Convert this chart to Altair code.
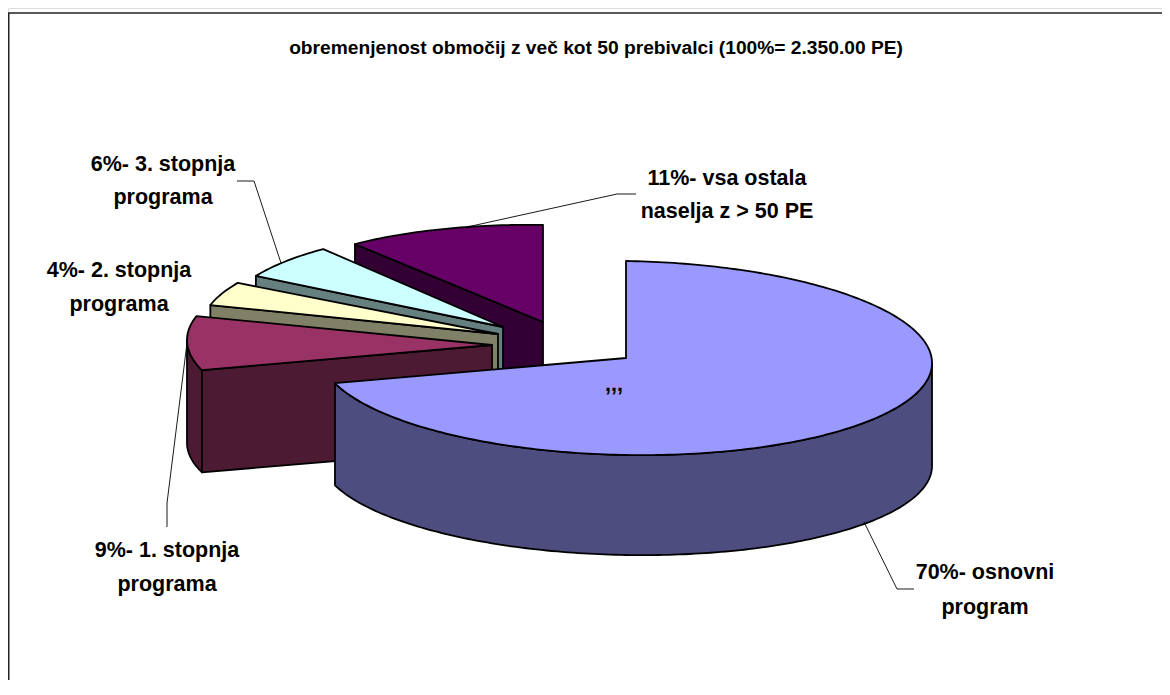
import math
import altair as alt

# ---- chart values ----
shares = [70, 9, 4, 6, 11]
top_colors = ["#9999FF", "#993366", "#FFFFCC", "#CCFFFF", "#660066"]
side_colors = ["#4D4D80", "#4D1A33", "#808066", "#668080", "#330033"]
title_text = "obremenjenost območij z več kot 50 prebivalci (100%= 2.350.00 PE)"
label_lines = [
    ["70%- osnovni", "program"],
    ["9%- 1. stopnja", "programa"],
    ["4%- 2. stopnja", "programa"],
    ["6%- 3. stopnja", "programa"],
    ["11%- vsa ostala", "naselja z > 50 PE"],
]

# ---- layout (page pixels; the page margin is subtracted below) ----
M = 8
apex = [(626, 358), (492, 345), (498, 334), (503, 327), (543, 322)]
rx = [306, 305, 297, 282, 295]
RY, DEPTH, SKEW = 97, 103, 5
label_pos = [
    (985, 579, 614), (167, 557, 591), (119, 277, 311), (163, 171, 204), (727, 185, 218),
]
leaders = [
    [(864, 522), (897, 589), (914, 589)],
    [(188, 335), (167, 503), (167, 527)],
    [(237, 181), (254, 181), (281, 263)],
    [(636, 194), (617, 194), (467, 227)],
]
borders = [[(8.75, 13), (8.75, 687)], [(8, 13), (1162, 13)]]


def pt(i, deg, drop=0):
    a = math.radians(deg)
    cx, cy = apex[i]
    if drop:
        drop -= 3 * max(0.0, -math.cos(a))  # the front wall looks a little shorter
    return (cx + rx[i] * math.sin(a) - M, cy - RY * math.cos(a) + SKEW * math.sin(a) + drop - M)


def arc(i, a0, a1, drop=0):
    n = max(2, int(abs(a1 - a0)) + 1)
    return [pt(i, a0 + (a1 - a0) * k / (n - 1), drop) for k in range(n)]


def poly(coords, fill):
    ring = [list(c) for c in coords] + [list(coords[0])]
    return {"type": "Feature", "properties": {"fill": fill},
            "geometry": {"type": "Polygon", "coordinates": [ring]}}


def line(coords):
    return {"type": "Feature", "properties": {},
            "geometry": {"type": "LineString", "coordinates": [[x - M, y - M] for x, y in coords]}}


# slices run clockwise from twelve o'clock
starts, total = [], 0
for s in shares:
    starts.append(total * 3.6)
    total += s

features = []
for i in reversed(range(len(shares))):  # back slices first, main slice last
    a0, a1 = starts[i], starts[i] + shares[i] * 3.6
    c = (apex[i][0] - M, apex[i][1] - M)
    lo, hi = max(a0, 90), min(a1, 270)
    if lo < hi:
        features.append(poly(arc(i, lo, hi) + arc(i, hi, lo, DEPTH), side_colors[i]))
    if a0 > 90:  # the cut face at the slice's start turns toward the viewer
        features.append(poly([c, pt(i, a0), pt(i, a0, DEPTH), (c[0], c[1] + DEPTH)], side_colors[i]))
    features.append(poly([c] + arc(i, a0, a1), top_colors[i]))

projection = alt.Projection(type="identity", scale=1, translate=[0, 0])


def geo(feats):
    return alt.InlineData(values={"type": "FeatureCollection", "features": feats},
                          format=alt.DataFormat(type="json", property="features"))


pie = alt.Chart(geo(features)).mark_geoshape(stroke="black", strokeWidth=1.8, strokeJoin="round").encode(
    color=alt.Color("properties.fill:N", scale=None, legend=None)
).project(**projection.to_dict())

rules_thin = alt.Chart(geo([line(l) for l in leaders])).mark_geoshape(
    filled=False, stroke="black", strokeWidth=0.9).project(**projection.to_dict())
rules_frame = alt.Chart(geo([line(l) for l in borders])).mark_geoshape(
    filled=False, stroke="#222222", strokeWidth=1.5).project(**projection.to_dict())

rows = []
for lines, (cx, y1, y2) in zip(label_lines, label_pos):
    rows.append({"t": lines[0], "px": cx - M, "py": y1 - M})
    rows.append({"t": lines[1], "px": cx - M, "py": y2 - M})
rows.append({"t": ",,,", "px": 614 - M, "py": 391 - M})

FONT = "Liberation Sans"
labels = alt.Chart(alt.Data(values=rows)).mark_text(
    font=FONT, fontWeight="bold", fontSize=21.5, align="center", baseline="alphabetic", color="black"
).encode(x=alt.X("px:Q", scale=None), y=alt.Y("py:Q", scale=None), text="t:N")

title = alt.Chart(alt.Data(values=[{"t": title_text, "px": 596 - M, "py": 54 - M}])).mark_text(
    font=FONT, fontWeight="bold", fontSize=19.2, align="center", baseline="alphabetic", color="black"
).encode(x=alt.X("px:Q", scale=None), y=alt.Y("py:Q", scale=None), text="t:N")

chart = alt.layer(rules_frame, pie, rules_thin, labels, title).properties(
    width=1154, height=672, padding=0
).configure_view(stroke=None).configure(background="white")

chart.save("out.html", embed_options={"renderer": "svg", "actions": False})
